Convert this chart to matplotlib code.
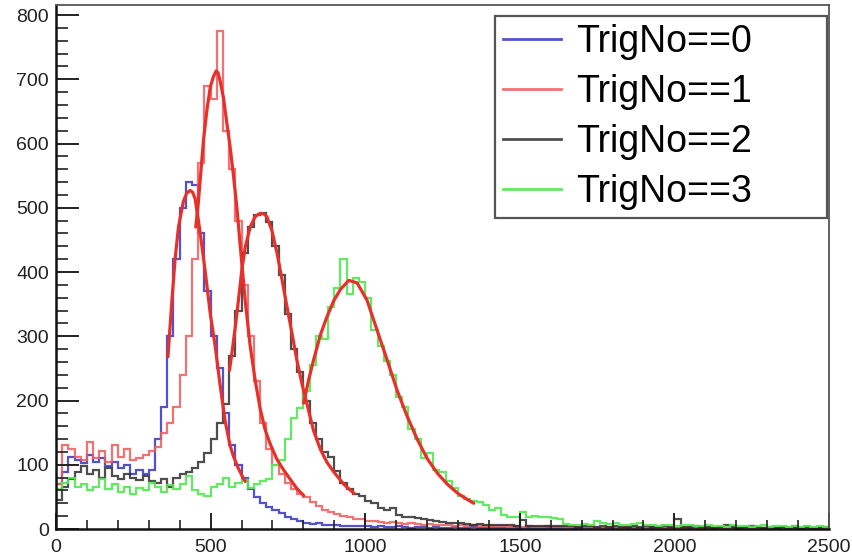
import numpy as np
import matplotlib
matplotlib.use("Agg")
import matplotlib.pyplot as plt
from matplotlib.ticker import MultipleLocator

plt.rcParams['font.family'] = ['Liberation Sans', 'DejaVu Sans']

# bin width of the histograms (ADC units), 0..2500
bin_width = 20
n_bins = 125

# histogram contents, TrigNo==0
trig0 = [70, 88, 112, 108, 103, 115, 105, 110, 98, 104, 95, 100, 86, 92, 85, 92, 140, 190, 300, 420,
         500, 540, 535, 460, 370, 300, 250, 180, 130, 100, 80, 62, 50, 40, 35, 30, 25, 19, 15, 12,
         10, 8, 9, 7, 6, 6, 5, 4, 5, 4, 4, 3, 4, 3, 3, 4, 3, 2, 3, 3,
         2, 3, 2, 2, 3, 2, 2, 3, 2, 2, 2, 2, 1, 2, 2, 2, 1, 2, 2, 1,
         2, 1, 1, 2, 1, 2, 1, 1, 2, 1, 1, 1, 2, 1, 1, 1, 1, 2, 1, 1,
         1, 1, 2, 1, 1, 1, 1, 1, 2, 1, 1, 1, 1, 1, 1, 1, 2, 1, 1, 1, 1, 1, 1, 1, 1]

# TrigNo==1
trig1 = [70, 130, 125, 112, 108, 135, 110, 122, 105, 130, 112, 125, 108, 110, 115, 122, 128, 150, 165, 190,
         240, 300, 420, 570, 690, 670, 775, 620, 560, 480, 380, 300, 230, 165, 125, 100, 85, 72, 62, 55,
         50, 42, 36, 30, 26, 24, 20, 18, 16, 15, 13, 12, 11, 10, 11, 9, 8, 9, 8, 7,
         8, 6, 7, 6, 5, 6, 5, 6, 4, 5, 4, 5, 4, 3, 4, 3, 4, 3, 3, 4,
         3, 3, 2, 3, 3, 2, 3, 2, 2, 3, 2, 2, 3, 2, 2, 2, 3, 2, 2, 2,
         2, 2, 3, 2, 2, 2, 1, 2, 2, 2, 1, 2, 2, 2, 1, 2, 2, 1, 2, 5, 2, 1, 2, 1, 1]

# TrigNo==2
trig2 = [45, 65, 78, 88, 98, 85, 92, 80, 95, 82, 78, 85, 80, 76, 82, 75, 72, 78, 65, 80,
         85, 88, 95, 105, 118, 140, 165, 195, 270, 340, 430, 470, 488, 492, 478, 440, 395, 335, 280, 245,
         200, 165, 140, 120, 112, 90, 72, 62, 55, 52, 44, 40, 32, 30, 33, 22, 19, 18, 17, 16,
         14, 12, 11, 10, 9, 9, 8, 7, 8, 7, 6, 7, 6, 6, 5, 14, 5, 4, 5, 4,
         5, 4, 4, 5, 3, 4, 5, 3, 4, 3, 4, 3, 3, 4, 3, 4, 3, 3, 4, 3,
         16, 3, 3, 4, 3, 3, 2, 3, 6, 3, 2, 3, 5, 3, 2, 3, 2, 3, 2, 3, 2, 3, 2, 2, 3]

# TrigNo==3
trig3 = [62, 72, 80, 66, 70, 60, 65, 78, 62, 70, 58, 66, 55, 64, 60, 72, 65, 58, 68, 62,
         70, 82, 60, 55, 52, 65, 70, 80, 66, 72, 76, 64, 70, 74, 78, 100, 108, 140, 172, 188,
         215, 255, 300, 295, 345, 375, 420, 365, 390, 385, 360, 310, 285, 262, 240, 205, 190, 155, 140, 110,
         118, 92, 88, 75, 64, 52, 46, 44, 42, 38, 30, 32, 22, 19, 19, 27, 18, 20, 18, 19,
         17, 16, 8, 7, 6, 8, 7, 12, 9, 8, 10, 7, 6, 8, 9, 7, 6, 5, 7, 6,
         5, 7, 6, 4, 5, 6, 4, 5, 3, 6, 4, 5, 3, 4, 6, 3, 4, 5, 3, 4, 3, 5, 3, 4, 3]

# fitted curves, points
fit0_x = [362, 375, 385, 396, 412, 423, 434, 442, 450, 466, 482, 499, 515, 531, 547, 563, 574, 590, 607, 612]
fit0_y = [268, 356, 419, 470, 510, 523, 527, 524, 514, 462, 403, 335, 284, 223, 168, 130, 113, 94, 78, 74]
fit1_x = [452, 461, 469, 477, 488, 499, 509, 518, 524, 531, 542, 553, 563, 574, 585, 596, 612, 628,
          644, 660, 676, 693, 715, 736, 758, 779, 801]
fit1_y = [470, 512, 559, 605, 652, 688, 704, 713, 710, 697, 670, 630, 595, 550, 500, 440, 355, 285,
          232, 188, 155, 132, 108, 92, 77, 63, 52]
fit2_x = [561, 569, 580, 590, 601, 612, 628, 644, 655, 666, 674, 682, 698, 715, 731, 747, 763, 779,
          795, 812, 833, 855, 876, 898, 930, 965]
fit2_y = [247, 274, 315, 356, 403, 439, 470, 486, 490, 491, 490, 486, 465, 429, 388, 346, 305, 263,
          227, 194, 153, 124, 104, 89, 70, 55]
fit3_x = [801, 817, 833, 855, 876, 898, 920, 947, 974, 1006, 1038, 1071, 1103, 1136, 1168, 1200,
          1233, 1265, 1298, 1330, 1351]
fit3_y = [196, 232, 263, 302, 330, 355, 373, 387, 383, 356, 310, 263, 216, 175, 140, 110,
          87, 70, 56, 46, 40]

labels = ['TrigNo==0', 'TrigNo==1', 'TrigNo==2', 'TrigNo==3']
colors = ['#3434c4', '#ee5a5a', '#222222', '#52e852']
alphas = [0.85, 0.85, 0.8, 0.9]
fit_color = '#e8302a'

edges = np.arange(n_bins + 1) * bin_width

fig = plt.figure(figsize=(8.52, 5.56), dpi=100)
ax = fig.add_axes([56 / 852, 27 / 556, 773 / 852, 524 / 556])

for vals, c, a, lab in zip([trig0, trig1, trig2, trig3], colors, alphas, labels):
    ax.stairs(vals, edges, baseline=None, color=c, alpha=a, lw=1.6, label=lab)

for fx, fy in [(fit0_x, fit0_y), (fit1_x, fit1_y), (fit2_x, fit2_y), (fit3_x, fit3_y)]:
    ax.plot(fx, fy, color=fit_color, lw=2.3, solid_joinstyle='round', solid_capstyle='round', zorder=5)

ax.set_xlim(0, 2500)
ax.set_ylim(0, 815.6)

ax.xaxis.set_major_locator(MultipleLocator(500))
ax.xaxis.set_minor_locator(MultipleLocator(100))
ax.yaxis.set_major_locator(MultipleLocator(100))
ax.yaxis.set_minor_locator(MultipleLocator(20))
ax.tick_params(axis='x', which='major', direction='in', length=11.5, width=1.4, labelsize=14, pad=7)
ax.tick_params(axis='x', which='minor', direction='in', length=6.5, width=1.2)
ax.tick_params(axis='y', which='major', direction='in', length=16.5, width=1.4, labelsize=14, pad=5)
ax.tick_params(axis='y', which='minor', direction='in', length=8.5, width=1.2)
ax.tick_params(colors='#222222', which='both')

for side in ['left', 'bottom']:
    ax.spines[side].set_linewidth(1.8)
    ax.spines[side].set_color('#111111')
for side in ['top', 'right']:
    ax.spines[side].set_linewidth(1.3)
    ax.spines[side].set_color('#555555')

# fixed-size legend box like ROOT's TLegend
leg = ax.legend(loc='upper left', bbox_to_anchor=(0.568, 0.5, 0.4295, 0.479), mode='expand',
                fontsize=27, frameon=True, fancybox=False, edgecolor='#555555', framealpha=1,
                handlelength=1.55, handletextpad=0.4, borderpad=0.22, labelspacing=0.37,
                borderaxespad=0)
leg.get_frame().set_linewidth(1.6)
for line in leg.get_lines():
    line.set_linewidth(2)

fig.savefig('out.png', dpi=100)
